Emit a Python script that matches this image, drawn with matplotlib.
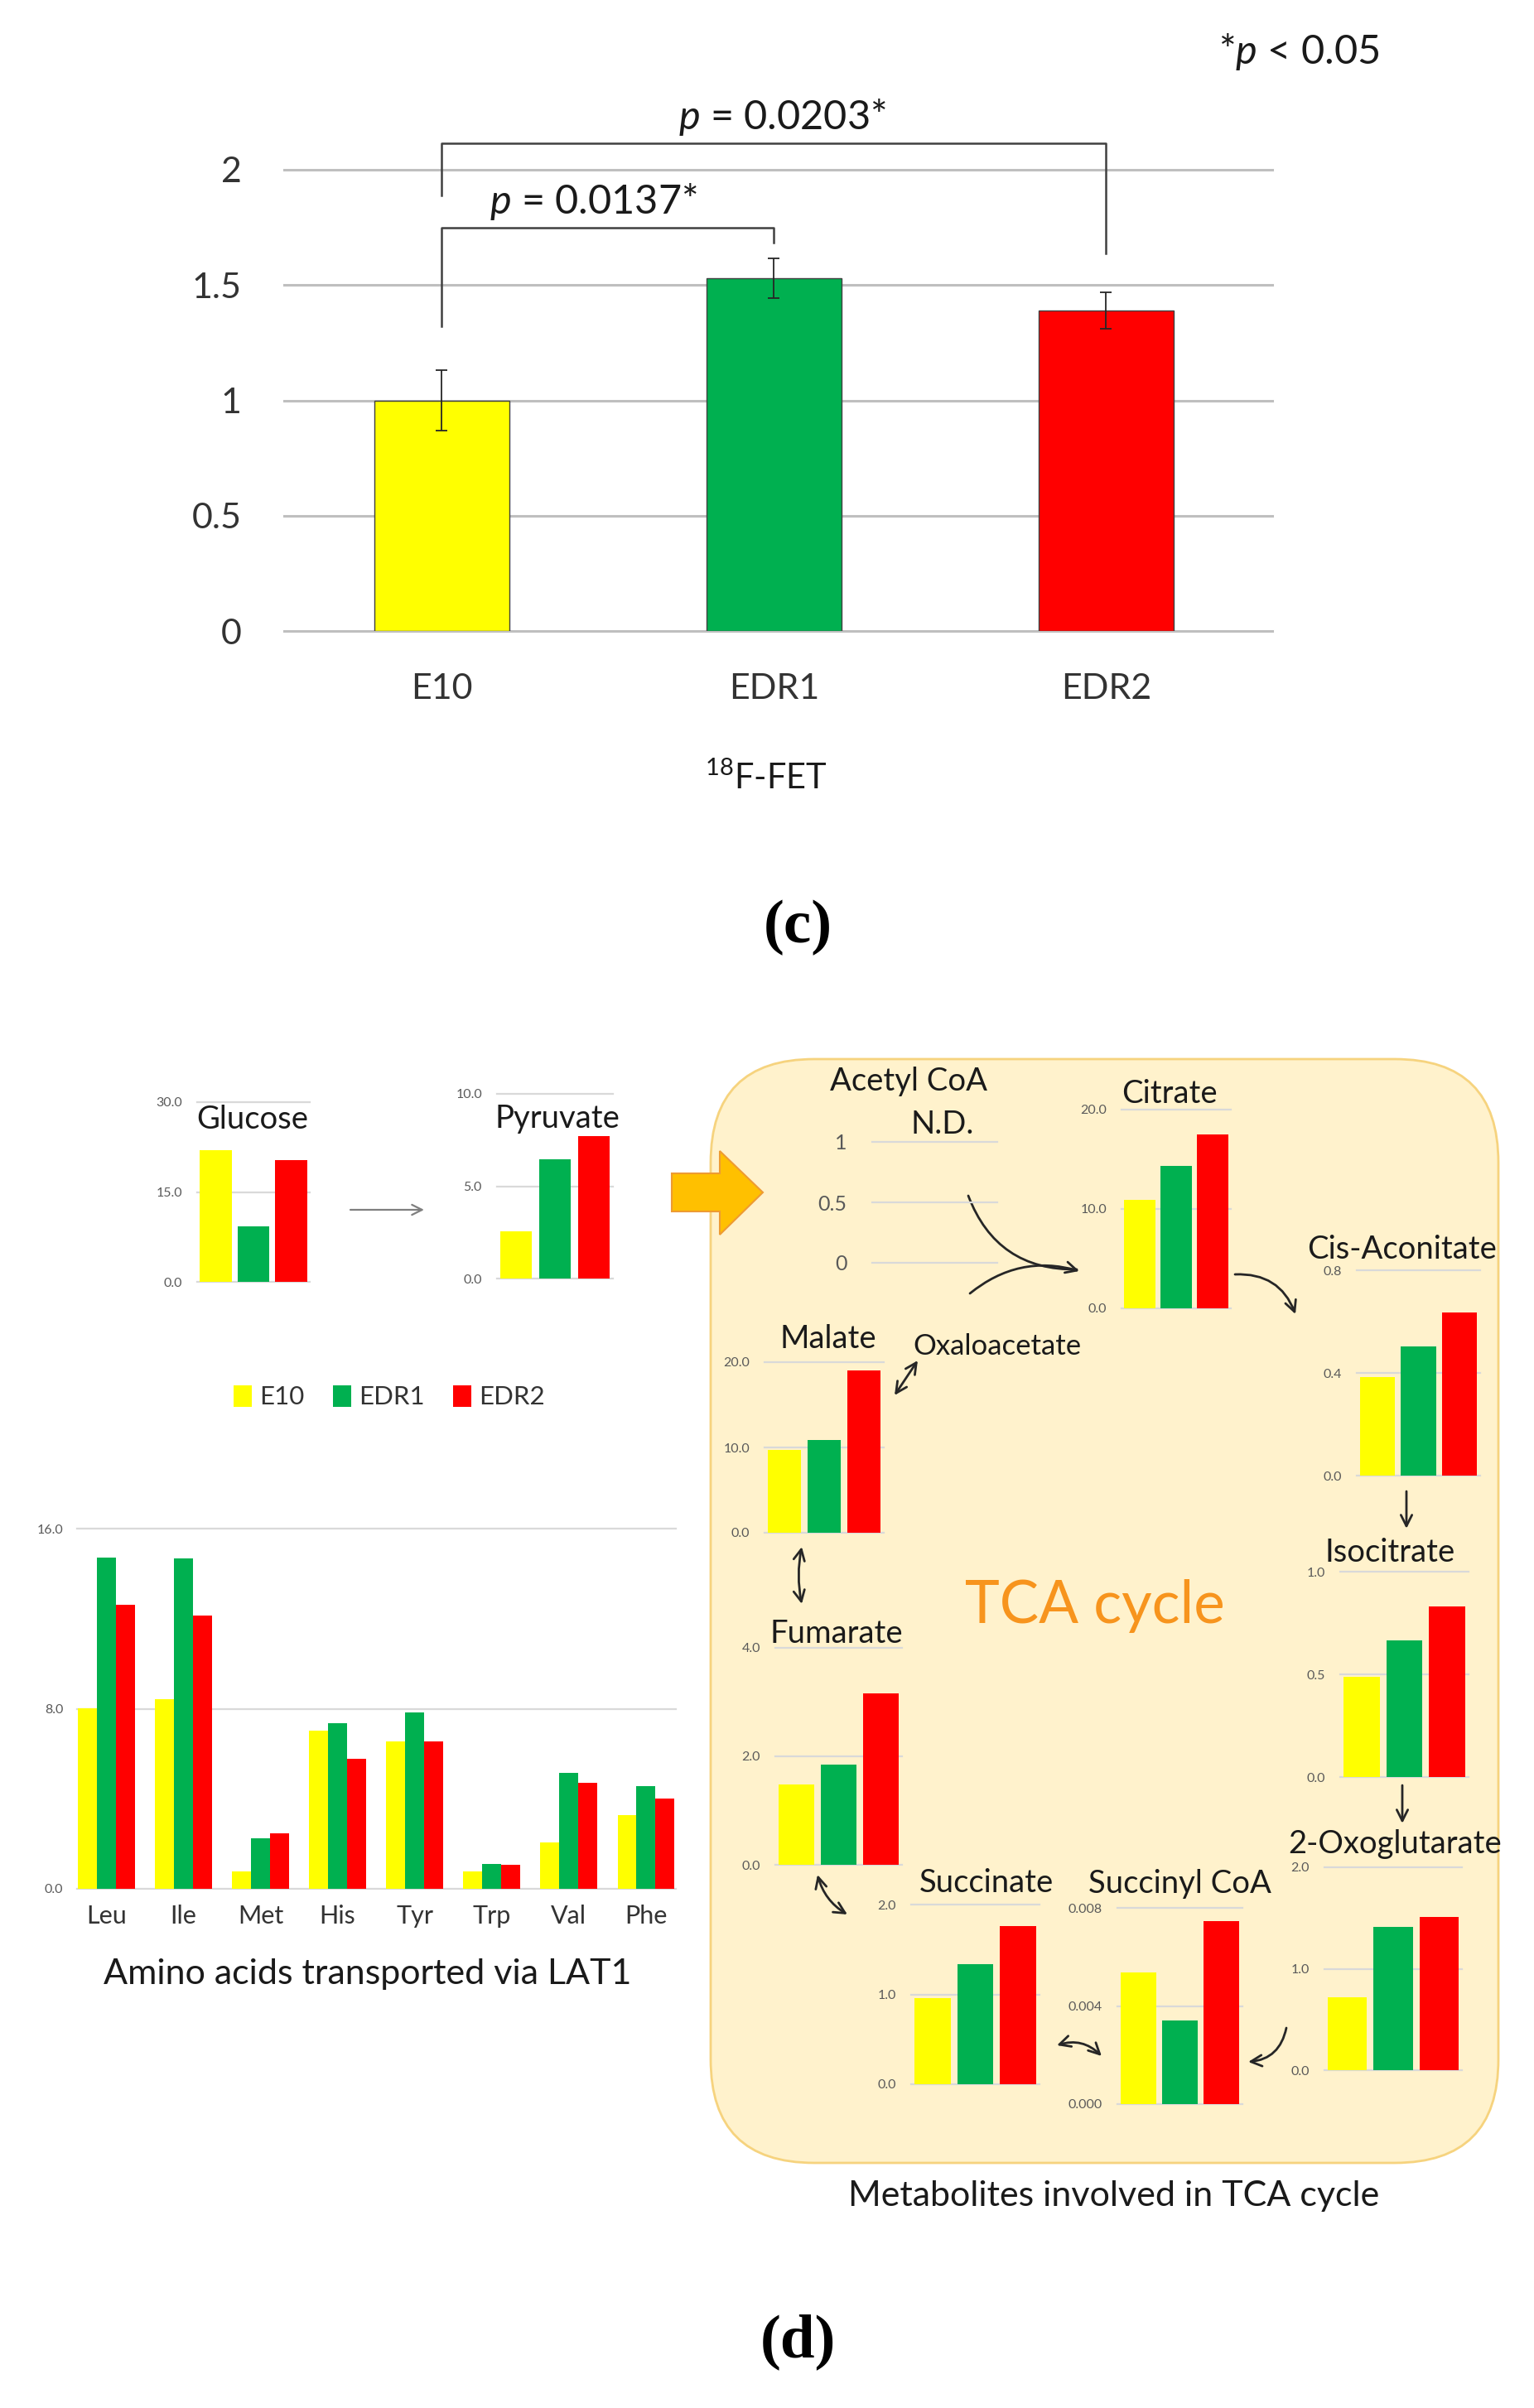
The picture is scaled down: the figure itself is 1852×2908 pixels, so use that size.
import numpy as np
import matplotlib
matplotlib.use("Agg")
import matplotlib.pyplot as plt
from matplotlib.patches import FancyBboxPatch, Polygon

# ---------------- data ----------------
groups = ["E10", "EDR1", "EDR2"]
group_colors = ["#FFFF00", "#00B050", "#FF0000"]

fet_values = [1.00, 1.53, 1.39]
fet_errors = [0.13, 0.085, 0.08]
fet_ticks = [0, 0.5, 1, 1.5, 2]
fet_tick_labels = ["0", "0.5", "1", "1.5", "2"]

glucose = [22.0, 9.2, 20.3]
pyruvate = [2.57, 6.47, 7.70]
citrate = [10.9, 14.3, 17.5]
cis_aconitate = [0.384, 0.502, 0.634]
isocitrate = [0.489, 0.664, 0.829]
oxoglutarate = [0.72, 1.41, 1.51]
succinyl_coa = [0.00537, 0.00341, 0.00745]
succinate = [0.96, 1.34, 1.76]
fumarate = [1.48, 1.85, 3.16]
malate = [9.7, 10.85, 19.0]

amino_acids = ["Leu", "Ile", "Met", "His", "Tyr", "Trp", "Val", "Phe"]
aa_e10 = [8.03, 8.44, 0.76, 7.02, 6.56, 0.79, 2.06, 3.28]
aa_edr1 = [14.73, 14.67, 2.26, 7.36, 7.85, 1.11, 5.15, 4.55]
aa_edr2 = [12.60, 12.14, 2.47, 5.77, 6.53, 1.07, 4.69, 4.00]

# ---------------- style ----------------
plt.rcParams["font.family"] = ["Lato", "DejaVu Sans"]
plt.rcParams["mathtext.fontset"] = "custom"
plt.rcParams["mathtext.rm"] = "Lato"
plt.rcParams["mathtext.it"] = "Lato:italic"
plt.rcParams["mathtext.bf"] = "Lato:bold"

W, H = 1852, 2908
fig = plt.figure(figsize=(W / 100, H / 100), dpi=100)
fig.patch.set_facecolor("white")

bg = fig.add_axes([0, 0, 1, 1])
bg.set_xlim(0, W)
bg.set_ylim(H, 0)
bg.axis("off")
bg.set_zorder(0)

TXT = "#1A1A1A"
TICK = "#595959"


def px_axes(left, right, top, bottom):
    a = fig.add_axes([left / W, 1 - bottom / H, (right - left) / W, (bottom - top) / H])
    a.set_zorder(2)
    a.patch.set_alpha(0)
    return a


def clean(ax):
    for s in ax.spines.values():
        s.set_visible(False)


def mini_chart(vals, box, ticks, labels, fs=11.5, pad=13, width=0.85):
    ax = px_axes(*box)
    if vals is not None:
        ax.bar(np.arange(3), vals, width=width, color=group_colors, zorder=2)
    ax.set_xlim(-0.5, 2.5)
    ax.set_ylim(ticks[0], ticks[-1])
    ax.set_yticks(ticks, labels)
    ax.set_xticks([])
    clean(ax)
    ax.tick_params(axis="y", length=0, pad=pad, labelsize=fs, labelcolor=TICK)
    ax.yaxis.grid(True, color="#D9D9D9", lw=1.6)
    ax.set_axisbelow(True)
    for gl in ax.get_ygridlines():
        gl.set_clip_on(False)
    return ax


# ---------------- panel (c) ----------------
axc = px_axes(343, 1536, 205, 762)
xc = np.arange(len(groups))
axc.bar(xc, fet_values, width=0.405, color=group_colors, edgecolor="#404040", lw=1.0, zorder=2)
axc.errorbar(xc, fet_values, yerr=fet_errors, fmt="none", ecolor="#262626",
             elinewidth=1.3, capsize=5, capthick=1.3, zorder=3)
axc.set_xlim(-0.475, 2.5)
axc.set_ylim(0, 2)
axc.set_yticks(fet_ticks, fet_tick_labels)
axc.set_xticks(xc, groups)
clean(axc)
axc.tick_params(axis="both", length=0, labelsize=31, labelcolor="#333333")
axc.tick_params(axis="y", pad=37)
axc.tick_params(axis="x", pad=37)
axc.yaxis.grid(True, color="#BFBFBF", lw=2.2)
axc.set_axisbelow(True)
for gl in axc.get_ygridlines():
    gl.set_clip_on(False)

# significance brackets
axc.plot([0, 0, 1, 1], [1.32, 1.75, 1.75, 1.684], color="#404040", lw=1.8, clip_on=False, zorder=4)
axc.plot([0, 0, 2, 2], [1.89, 2.115, 2.115, 1.638], color="#404040", lw=1.8, clip_on=False, zorder=4)

bg.text(716, 258, r"$p$ = 0.0137*", fontsize=35, color=TXT, ha="center", va="baseline")
bg.text(944, 156, r"$p$ = 0.0203*", fontsize=35, color=TXT, ha="center", va="baseline")
bg.text(1568, 77, r"*$p$ < 0.05", fontsize=35, color=TXT, ha="center", va="baseline")
bg.text(925, 953, r"$^{18}$F-FET", fontsize=30, color=TXT, ha="center", va="baseline")
bg.text(963, 1120, "(c)", fontsize=54, fontweight="bold", family=["Liberation Serif", "DejaVu Serif"],
        color="black", ha="center", va="center")

# ---------------- panel (d) ----------------
# TCA background box
box = FancyBboxPatch((858, 1279), 951, 1333, boxstyle="round,pad=0,rounding_size=125",
                     fc="#FFF2CC", ec="#F6D37E", lw=2.0, zorder=0)
bg.add_patch(box)

# big orange arrow
bg.add_patch(Polygon([(811, 1417), (869, 1417), (869, 1390), (921, 1440),
                      (869, 1491), (869, 1463), (811, 1463)],
                     closed=True, fc="#FFC000", ec="#ED9B33", lw=1.5, zorder=1))

# glycolysis mini charts
ax_glu = mini_chart(glucose, (238, 374, 1331, 1548), [0, 15, 30], ["0.0", "15.0", "30.0"])
ax_pyr = mini_chart(pyruvate, (600, 740, 1321, 1544), [0, 5, 10], ["0.0", "5.0", "10.0"], width=0.82)
bg.text(305, 1363, "Glucose", fontsize=27.5, color=TXT, ha="center", va="baseline", zorder=5)
bg.text(673, 1362, "Pyruvate", fontsize=27.5, color=TXT, ha="center", va="baseline", zorder=5)
bg.annotate("", xy=(512, 1461), xytext=(423, 1461),
            arrowprops=dict(arrowstyle="->", color="#7F7F7F", lw=1.6, mutation_scale=22,
                            shrinkA=0, shrinkB=0))

# legend
handles = list(ax_glu.containers[0].patches)
fig.legend(handles, groups, loc="center", bbox_to_anchor=(470 / W, 1 - 1687 / H), ncol=3,
           frameon=False, fontsize=22.5, handlelength=0.7, handleheight=0.9,
           handletextpad=0.3, columnspacing=1.1, labelcolor="#333333")

# amino acid chart
axa = px_axes(93, 816, 1846, 2281)
xa = np.arange(len(amino_acids))
bw = 0.245
for i, vals in enumerate([aa_e10, aa_edr1, aa_edr2]):
    axa.bar(xa + (i - 1) * bw, vals, width=bw, color=group_colors[i], zorder=2)
axa.set_xlim(-0.38, 7.39)
axa.set_ylim(0, 16)
axa.set_yticks([0, 8, 16], ["0.0", "8.0", "16.0"])
axa.set_xticks(xa, amino_acids)
clean(axa)
axa.tick_params(axis="y", length=0, pad=12, labelsize=11.5, labelcolor=TICK)
axa.tick_params(axis="x", length=0, pad=14, labelsize=22, labelcolor="#333333")
axa.yaxis.grid(True, color="#D9D9D9", lw=1.6)
axa.set_axisbelow(True)
for gl in axa.get_ygridlines():
    gl.set_clip_on(False)
bg.text(444, 2396, "Amino acids transported via LAT1", fontsize=31, color=TXT,
        ha="center", va="baseline")

# TCA mini charts
mini_chart(None, (1053, 1204, 1379, 1525), [0, 0.5, 1], ["0", "0.5", "1"], fs=18, pad=22)
mini_chart(citrate, (1354, 1486, 1340, 1580), [0, 10, 20], ["0.0", "10.0", "20.0"])
mini_chart(cis_aconitate, (1638, 1787, 1534, 1782), [0, 0.4, 0.8], ["0.0", "0.4", "0.8"])
mini_chart(malate, (923, 1067, 1645, 1851), [0, 10, 20], ["0.0", "10.0", "20.0"])
mini_chart(fumarate, (936, 1089, 1990, 2252), [0, 2, 4], ["0.0", "2.0", "4.0"])
mini_chart(isocitrate, (1618, 1773, 1898, 2146), [0, 0.5, 1.0], ["0.0", "0.5", "1.0"])
mini_chart(oxoglutarate, (1599, 1765, 2255, 2500), [0, 1, 2], ["0.0", "1.0", "2.0"])
mini_chart(succinyl_coa, (1349, 1500, 2304, 2541), [0, 0.004, 0.008], ["0.000", "0.004", "0.008"])
mini_chart(succinate, (1100, 1255, 2300, 2517), [0, 1, 2], ["0.0", "1.0", "2.0"])

titles = [
    ("Acetyl CoA", 1097, 1317, 27.5),
    ("N.D.", 1138, 1369, 27.5),
    ("Citrate", 1412, 1332, 27.5),
    ("Cis-Aconitate", 1693, 1520, 27.5),
    ("Malate", 1000, 1628, 27.5),
    ("Oxaloacetate", 1204, 1636, 25),
    ("Fumarate", 1010, 1984, 27.5),
    ("Isocitrate", 1678, 1886, 27.5),
    ("2-Oxoglutarate", 1684, 2238, 27.5),
    ("Succinate", 1191, 2285, 27.5),
    ("Succinyl CoA", 1424, 2286, 27.5),
]
for name, x, y, fs in titles:
    bg.text(x, y, name, fontsize=fs, color=TXT, ha="center", va="baseline", zorder=5)

bg.text(1322, 1960, "TCA cycle", fontsize=51, color="#F7941D", ha="center", va="baseline", zorder=5)
bg.text(1345, 2664, "Metabolites involved in TCA cycle", fontsize=31, color=TXT,
        ha="center", va="baseline")
bg.text(963, 2828, "(d)", fontsize=54, fontweight="bold", family=["Liberation Serif", "DejaVu Serif"],
        color="black", ha="center", va="center")


# pathway arrows
def arrow(p0, p1, style="->", rad=0.0, lw=2.0):
    bg.annotate("", xy=p1, xytext=p0, zorder=6,
                arrowprops=dict(arrowstyle=style, color="#262626", lw=lw, mutation_scale=24,
                                shrinkA=0, shrinkB=0, connectionstyle=f"arc3,rad={rad}"))


arrow((1169, 1444), (1300, 1533), style="-", rad=0.35)
arrow((1171, 1562), (1303, 1535), style="->", rad=-0.26)
arrow((1491, 1539), (1564, 1587), style="->", rad=-0.36)
arrow((1698, 1801), (1698, 1846), style="->")
arrow((1693, 2156), (1693, 2202), style="->")
arrow((1553, 2449), (1507, 2490), style="->", rad=-0.37)
arrow((1276, 2470), (1330, 2483), style="<->", rad=-0.3)
arrow((987, 2264), (1023, 2312), style="<->", rad=0.2)
arrow((968, 1868), (968, 1937), style="<->", rad=0.1)
arrow((1080, 1685), (1108, 1643), style="<->")

fig.savefig("out.png", dpi=100, facecolor="white")
